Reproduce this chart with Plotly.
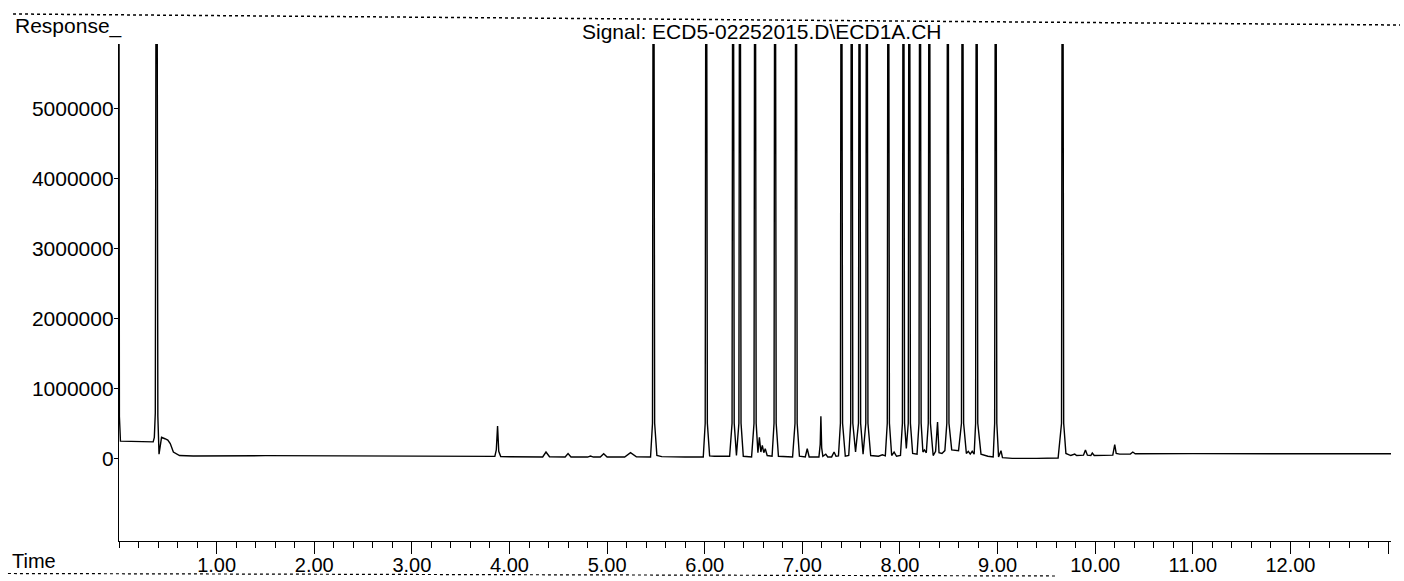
import plotly.graph_objects as go

# ---------------- data (time in min, response in counts) ----------------
# start of run + solvent front
SOLVENT_T = [0.000, 0.004, 0.015, 0.350, 0.362, 0.372, 0.385, 0.398, 0.410, 0.436, 0.470, 0.500, 0.525, 0.557, 0.620, 0.760]
SOLVENT_R = [6500000, 600000, 245000, 235000, 300000, 650000, 12000000, 600000, 60000, 300000, 280000, 260000, 210000, 90000, 40000, 33000]

# baseline with small peaks up to 5.4 min
EARLY_T = [1.500, 2.500, 3.300, 3.850, 3.865, 3.878, 3.890, 3.910, 4.000, 4.340, 4.374, 4.410, 4.570, 4.600, 4.630,
           4.800, 4.830, 4.860, 4.930, 4.965, 5.000, 5.180, 5.240, 5.300, 5.445]
EARLY_R = [38000, 32000, 30000, 28000, 120000, 460000, 100000, 25000, 22000, 20000, 90000, 22000, 20000, 67000, 20000,
           18000, 32000, 18000, 18000, 67000, 20000, 18000, 80000, 22000, 20000]

# 5.5 - 6.5 min
MID1_T = [5.465, 5.475, 5.487, 5.510, 5.560, 5.800, 5.985, 6.005, 6.015, 6.027, 6.050, 6.100, 6.255, 6.280, 6.290,
          6.302, 6.325, 6.350, 6.360, 6.372, 6.395, 6.480]
MID1_R = [500000, 12000000, 500000, 40000, 25000, 20000, 20000, 500000, 12000000, 500000, 35000, 30000, 30000, 500000, 12000000,
          500000, 40000, 500000, 12000000, 500000, 30000, 20000]

# 6.5 - 7.4 min
MID2_T = [6.505, 6.515, 6.527, 6.545, 6.560, 6.575, 6.590, 6.605, 6.620, 6.640, 6.690, 6.710, 6.720, 6.732, 6.755,
          6.900, 6.925, 6.935, 6.947, 6.970, 7.030, 7.050, 7.070, 7.170, 7.183, 7.190, 7.198, 7.210, 7.240, 7.260,
          7.300, 7.325, 7.345, 7.370]
MID2_R = [500000, 12000000, 500000, 80000, 300000, 90000, 185000, 80000, 137000, 40000, 30000, 500000, 12000000, 500000, 30000,
          20000, 500000, 12000000, 500000, 30000, 20000, 137000, 20000, 20000, 200000, 600000, 150000, 30000, 60000, 20000,
          20000, 90000, 30000, 35000]

# 7.4 - 8.37 min
MID3_T = [7.390, 7.400, 7.412, 7.440, 7.475, 7.495, 7.505, 7.517, 7.545, 7.575, 7.585, 7.597, 7.622, 7.650, 7.660,
          7.672, 7.700, 7.780, 7.820, 7.850, 7.870, 7.880, 7.892, 7.915, 7.940, 7.965, 8.005, 8.025, 8.035, 8.047,
          8.065, 8.085, 8.095, 8.107, 8.130, 8.175, 8.195, 8.205, 8.217, 8.235, 8.250, 8.270, 8.290, 8.300, 8.312,
          8.340, 8.365]
MID3_R = [500000, 12000000, 500000, 30000, 40000, 500000, 12000000, 500000, 90000, 500000, 12000000, 500000, 60000, 500000, 12000000,
          500000, 40000, 30000, 50000, 35000, 500000, 12000000, 500000, 40000, 90000, 30000, 40000, 500000, 12000000, 500000,
          140000, 500000, 12000000, 500000, 70000, 60000, 500000, 12000000, 500000, 90000, 120000, 80000, 500000, 12000000, 500000,
          40000, 100000]

# 8.38 min to end of run
LATE_T = [8.385, 8.400, 8.430, 8.460, 8.480, 8.490, 8.502, 8.530, 8.600, 8.630, 8.640, 8.652, 8.680, 8.700, 8.720,
          8.740, 8.760, 8.775, 8.785, 8.797, 8.830, 8.900, 8.955, 8.970, 8.980, 8.992, 9.010, 9.035, 9.050, 9.150,
          9.400, 9.620, 9.655, 9.665, 9.677, 9.700, 9.750, 9.790, 9.810, 9.880, 9.900, 9.920, 9.955, 9.970, 9.990,
          10.180, 10.200, 10.215, 10.250, 10.360, 10.385, 10.410, 11.000, 12.000, 13.040]
LATE_R = [520000, 80000, 70000, 110000, 500000, 12000000, 500000, 120000, 110000, 500000, 12000000, 500000, 70000, 100000, 60000,
          100000, 60000, 500000, 12000000, 500000, 60000, 30000, 20000, 500000, 12000000, 500000, 20000, 110000, 10000, 0,
          0, 5000, 500000, 12000000, 500000, 70000, 40000, 60000, 40000, 45000, 120000, 45000, 40000, 75000, 40000,
          45000, 195000, 70000, 60000, 60000, 90000, 65000, 67000, 67000, 65000]

Y_TICKS = [0, 1000000, 2000000, 3000000, 4000000, 5000000]
Y_LABELS = ["0", "1000000", "2000000", "3000000", "4000000", "5000000"]
X_TICKS = [1, 2, 3, 4, 5, 6, 7, 8, 9, 10, 11, 12, 13]
X_LABELS = ["1.00", "2.00", "3.00", "4.00", "5.00", "6.00", "7.00", "8.00", "9.00", "10.00", "11.00", "12.00", ""]

SIGNAL_TEXT = "Signal: ECD5-02252015.D\\ECD1A.CH"

# ---------------- build ----------------
time = SOLVENT_T + EARLY_T + MID1_T + MID2_T + MID3_T + LATE_T
resp = SOLVENT_R + EARLY_R + MID1_R + MID2_R + MID3_R + LATE_R
assert len(time) == len(resp)

FONT = "Liberation Sans, Arial, Helvetica, sans-serif"

fig = go.Figure()
fig.add_trace(go.Scatter(x=time, y=resp, mode="lines",
                         line=dict(color="black", width=1.4), showlegend=False,
                         hoverinfo="skip"))

fig.update_layout(
    width=1404, height=581, autosize=False,
    paper_bgcolor="white", plot_bgcolor="white",
    margin=dict(l=119, r=13, t=44, b=40, pad=0),
    font=dict(family=FONT, color="black"),
    showlegend=False,
)

fig.update_xaxes(
    range=[0, 13.03], showgrid=False, zeroline=False,
    showline=True, linecolor="black", linewidth=1.3,
    tickmode="array", tickvals=X_TICKS, ticktext=X_LABELS,
    ticks="outside", ticklen=12, tickwidth=1.2, tickcolor="black",
    ticklabelstandoff=-6,
    tickfont=dict(size=20, family=FONT, color="black"),
    minor=dict(tickmode="linear", tick0=0, dtick=0.2, ticks="outside",
               ticklen=6, tickwidth=1, tickcolor="black", showgrid=False),
    automargin=False,
)
fig.update_yaxes(
    range=[-1181000, 5919000], showgrid=False, zeroline=False,
    showline=True, linecolor="black", linewidth=1.3,
    tickmode="array", tickvals=Y_TICKS, ticktext=Y_LABELS,
    ticks="outside", ticklen=4, tickwidth=1, tickcolor="black",
    ticklabelstandoff=-4,
    tickfont=dict(size=21, family=FONT, color="black"),
    automargin=False,
)

ann = dict(xref="paper", yref="paper", showarrow=False, xanchor="left", yanchor="middle")
fig.add_annotation(text="Response_", x=-0.0833, y=1.0372, font=dict(size=21, family=FONT, color="black"), **ann)
fig.add_annotation(text=SIGNAL_TEXT, x=0.3624, y=1.0252, font=dict(size=21, family=FONT, color="black"), **ann)
fig.add_annotation(text="Time", x=-0.0857, y=-0.0402, font=dict(size=20, family=FONT, color="black"), **ann)

# page rule lines (scan borders)
fig.add_shape(type="line", xref="paper", yref="paper", x0=-0.0833, y0=1.0604, x1=1.0071, y1=1.0382,
              line=dict(color="black", width=1.5, dash="dot"))
fig.add_shape(type="line", xref="paper", yref="paper", x0=-0.0873, y0=-0.0654, x1=0.7374, y1=-0.0704,
              line=dict(color="black", width=1.2, dash="dot"))

fig.write_html(
    "out.html",
    config={"displayModeBar": False},
    post_script="document.body.style.margin='0';document.body.style.padding='0';"
                "document.body.style.overflow='hidden';",
)
